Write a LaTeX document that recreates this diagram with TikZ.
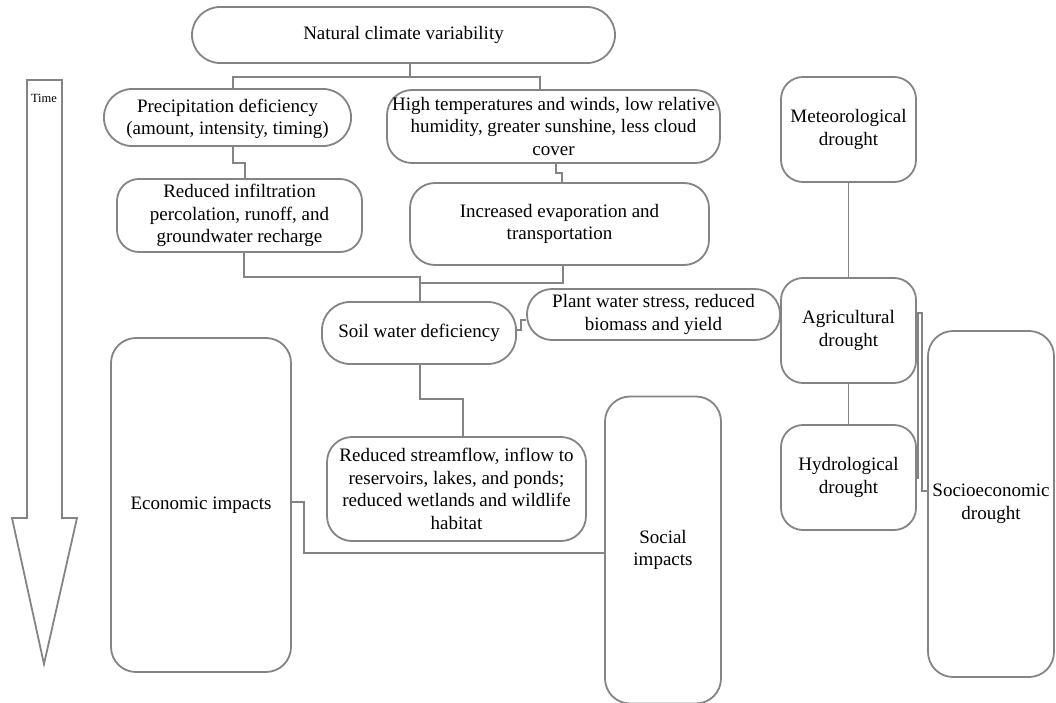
\documentclass[tikz,border=0pt]{standalone}
\usepackage{fontspec}
\setmainfont{Liberation Serif}
\definecolor{lc}{RGB}{132,132,132}
\newcommand{\boxfont}{\fontsize{19}{22.5}\selectfont}
\begin{document}
\begin{tikzpicture}[x=1pt,y=-1pt,
  line/.style={draw=lc, line width=1.8pt},
  box/.style={draw=lc, line width=1.8pt, rounded corners=#1, align=center, inner sep=0pt, font=\boxfont, text=black},
  box/.default=22pt]
\useasboundingbox (0,0) rectangle (1056,703);

% time arrow
\draw[line] (27,80) -- (62,80) -- (62,518) -- (77,518) -- (44,664) -- (12,518) -- (27,518) -- cycle;
\node[font=\fontsize{12.5}{14}\selectfont] (time) at (44,98) {Time};

% boxes
\node[box=28pt, minimum width=423pt, minimum height=56pt] (nat) at (403.5,35) {Natural climate variability};
\node[box=28pt, minimum width=247pt, minimum height=57pt] (pre) at (227.5,117.5) {\strut Precipitation deficiency\\(amount, intensity, timing)};
\node[box=25pt, minimum width=333pt, minimum height=73pt] (high) at (553.5,126.5) {High temperatures and winds, low relative\\humidity, greater sunshine, less cloud\\cover};
\node[box=22pt, minimum width=245pt, minimum height=73pt] (inf) at (239.5,215.5) {Reduced infiltration\\percolation, runoff, and\\groundwater recharge};
\node[box=25pt, minimum width=299pt, minimum height=82pt] (evap) at (559.5,224) {Increased evaporation and\\transportation};
\node[box=28pt, minimum width=194pt, minimum height=62pt] (soil) at (419,333) {\strut Soil water deficiency};
\node[box=25pt, minimum width=253pt, minimum height=51pt] (plant) at (653.5,314.5) {Plant water stress, reduced\\biomass and yield};
\node[box=25pt, minimum width=259pt, minimum height=104pt] (stream) at (456.5,489) {Reduced streamflow, inflow to\\reservoirs, lakes, and ponds;\\reduced wetlands and wildlife\\habitat};
\node[box=22pt, minimum width=135pt, minimum height=105pt] (met) at (848.5,129.5) {Meteorological\\drought};
\node[box=22pt, minimum width=135pt, minimum height=105pt] (agri) at (848.5,330.5) {Agricultural\\drought};
\node[box=22pt, minimum width=135pt, minimum height=105pt] (hyd) at (848.5,477.5) {Hydrological\\drought};
\node[box=25pt, minimum width=126pt, minimum height=346pt] (soc) at (991,504) {Socioeconomic\\drought};
\node[box=25pt, minimum width=180pt, minimum height=334pt] (econ) at (201,505) {\strut Economic impacts};
\node[box=25pt, minimum width=116pt, minimum height=307pt] (social) at (663,550) {Social\\impacts};

% connectors
\draw[line] (nat.south -| 410,0) -- (410,77);
\draw[line] (pre.north -| 233,0) |- (540,77) -- (high.north -| 540,0);
\draw[line] (pre.south -| 233,0) -- (233,163) -| (inf.north -| 245,0);
\draw[line] (high.south -| 556,0) -- (556,173) -| (evap.north -| 562,0);
\draw[line] (inf.south -| 244,0) |- (420,277) -- (soil.north -| 420,0);
\draw[line] (evap.south -| 563,0) |- (420,283);
\draw[line] (soil.east |- 0,330) -- (521,330) |- (plant.west |- 0,320);
\draw[line] (soil.south -| 420,0) |- (463,399) -- (stream.north -| 463,0);
\draw[line] (met.south) -- (agri.north);
\draw[line] (agri.south) -- (hyd.north);
\draw[line] (agri.east |- 0,313) -| (922,491) -- (soc.west |- 0,491);
\draw[line] (hyd.east |- 0,478) -| (918,313);
\draw[line] (econ.east |- 0,502) -| (304,553) -- (social.west |- 0,553);
\end{tikzpicture}
\end{document}
